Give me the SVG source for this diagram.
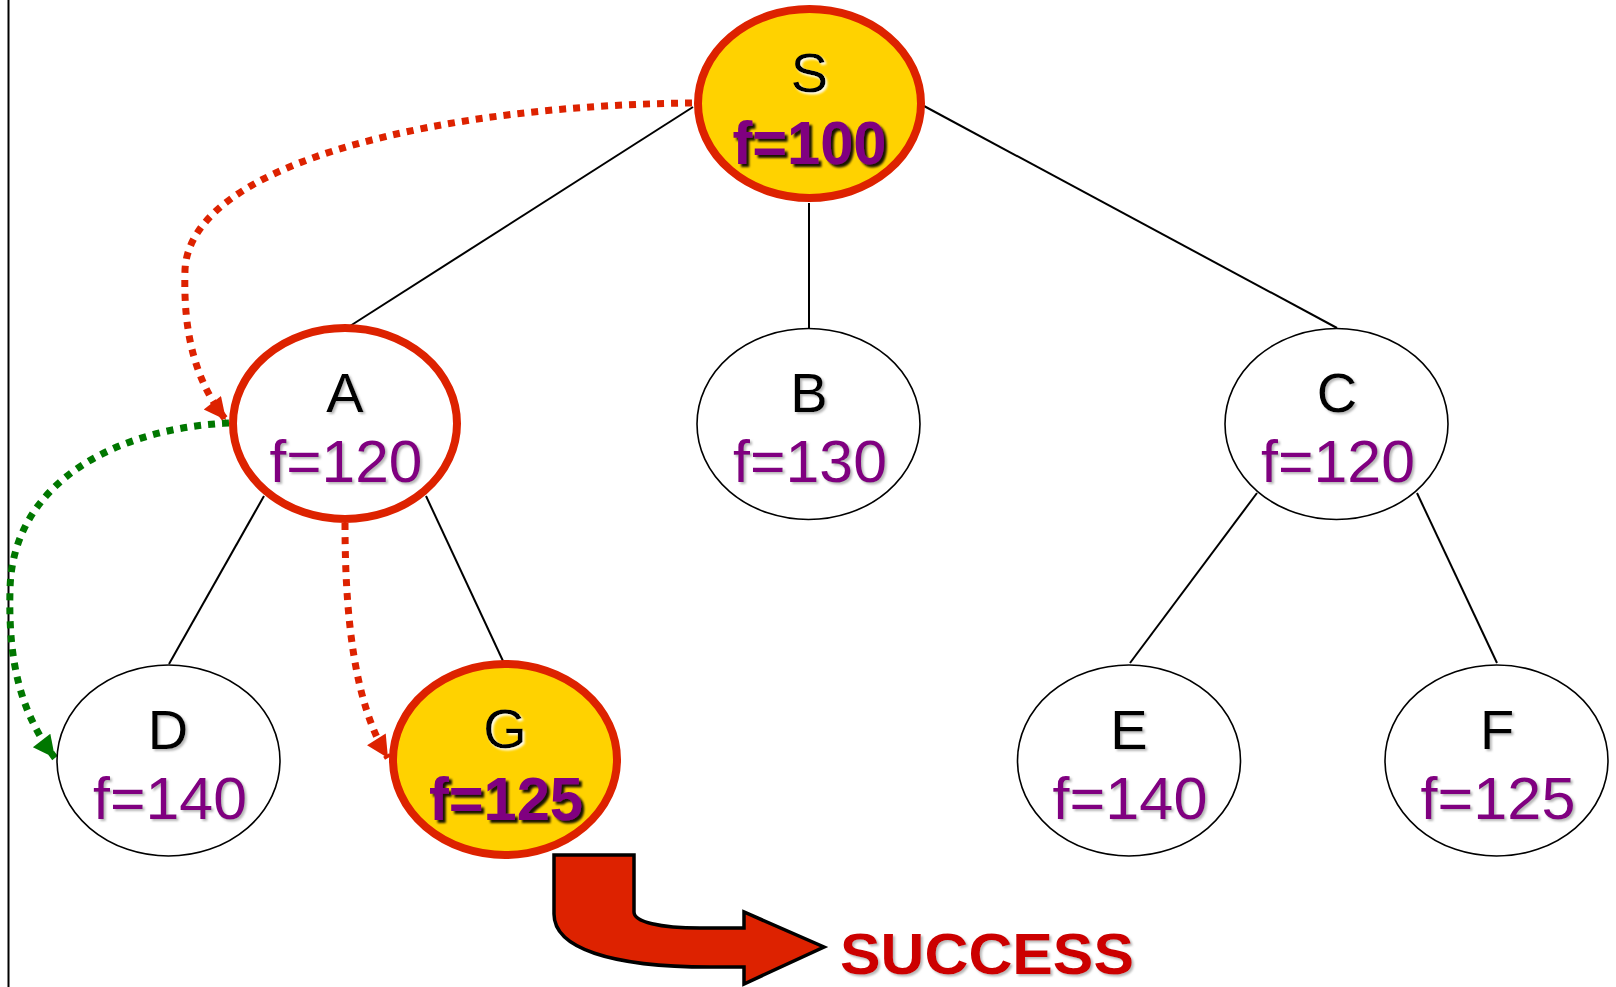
<svg xmlns="http://www.w3.org/2000/svg" width="1616" height="987" viewBox="0 0 1616 987">
<style>
.edge{stroke:#000;stroke-width:2;fill:none}
.hot{fill:#FFD200;stroke:#DD2200;stroke-width:8}
.open{fill:#fff;stroke:#DD2200;stroke-width:8}
.plain{fill:#fff;stroke:#000;stroke-width:1.6}
.lt{font-family:"Liberation Sans","DejaVu Sans",sans-serif;font-size:56px;fill:#000;text-anchor:middle}
.fv{font-family:"Liberation Sans","DejaVu Sans",sans-serif;font-size:60px;fill:#800080;text-anchor:middle}
.fb{font-family:"Liberation Sans","DejaVu Sans",sans-serif;font-size:62px;font-weight:bold;fill:#800080;text-anchor:middle}
.rd{fill:none;stroke:#DD2200;stroke-width:7;stroke-dasharray:7 7}
.gd{fill:none;stroke:#007700;stroke-width:7;stroke-dasharray:7 7}
</style>
<defs>
<filter id="sh" x="-20%" y="-20%" width="140%" height="140%"><feDropShadow dx="2" dy="2" stdDeviation="1.2" flood-color="#888" flood-opacity="0.6"/></filter>
<filter id="shb" x="-20%" y="-20%" width="140%" height="140%"><feDropShadow dx="3" dy="3" stdDeviation="1" flood-color="#000" flood-opacity="0.9"/></filter>
<filter id="shw" x="-20%" y="-20%" width="140%" height="140%"><feDropShadow dx="2" dy="2" stdDeviation="1.2" flood-color="#fff" flood-opacity="0.9"/></filter>
<marker id="ar" viewBox="0 0 20 20" refX="20" refY="10" markerWidth="24" markerHeight="22" markerUnits="userSpaceOnUse" orient="auto"><path d="M0,0 L20,10 L0,20 Z" fill="#DD2200"/></marker>
<marker id="ag" viewBox="0 0 20 20" refX="20" refY="10" markerWidth="24" markerHeight="22" markerUnits="userSpaceOnUse" orient="auto"><path d="M0,0 L20,10 L0,20 Z" fill="#007700"/></marker>
</defs>
<rect x="0" y="0" width="1616" height="987" fill="#fff"/>
<line x1="8.5" y1="0" x2="8.5" y2="987" stroke="#000" stroke-width="2"/>
<g id="connectors">
<line class="edge" x1="693" y1="107" x2="350" y2="326"/>
<line class="edge" x1="809" y1="203" x2="809" y2="328"/>
<line class="edge" x1="924" y1="106" x2="1337" y2="328"/>
<line class="edge" x1="264" y1="496" x2="169" y2="664"/>
<line class="edge" x1="426" y1="496" x2="503" y2="661"/>
<line class="edge" x1="1257" y1="493" x2="1130" y2="663"/>
<line class="edge" x1="1417" y1="493" x2="1497" y2="663"/>
<path class="rd" d="M692,103 C450,105 190,160 185,270 C183,335 196,382 226,420" marker-end="url(#ar)"/>
<path class="gd" d="M229,423 C120,428 12,480 10,590 C8,665 22,715 55,758" marker-end="url(#ag)"/>
<path class="rd" d="M345,523 C345,620 355,705 388,758" marker-end="url(#ar)"/>
<path d="M554,855 L634,855 L634,912 C634,922 660,928 700,928 L744,928 L744,912 L824,947 L744,984 L744,967 L710,967 C610,967 554,948 554,914 Z" fill="#DD2200" stroke="#000" stroke-width="3.5" stroke-linejoin="miter"/>
</g>
<g id="node-S">
<ellipse class="hot" cx="809.5" cy="103.5" rx="111.5" ry="94.5"/>
<text class="lt" x="809.5" y="92" filter="url(#shw)">S</text>
<text class="fb" x="809.5" y="164" textLength="154" lengthAdjust="spacingAndGlyphs" filter="url(#shb)">f=100</text>
</g>
<g id="node-A">
<ellipse class="open" cx="345" cy="423.5" rx="112" ry="95.5"/>
<text class="lt" x="345" y="412" filter="url(#sh)">A</text>
<text class="fv" x="346" y="482" textLength="153" lengthAdjust="spacingAndGlyphs" filter="url(#sh)">f=120</text>
</g>
<g id="node-B">
<ellipse class="plain" cx="808.5" cy="424" rx="111.5" ry="95.5"/>
<text class="lt" x="809" y="412" filter="url(#sh)">B</text>
<text class="fv" x="810" y="482" textLength="154" lengthAdjust="spacingAndGlyphs" filter="url(#sh)">f=130</text>
</g>
<g id="node-C">
<ellipse class="plain" cx="1336.5" cy="424" rx="111.5" ry="95.5"/>
<text class="lt" x="1337" y="412" filter="url(#sh)">C</text>
<text class="fv" x="1338" y="482" textLength="154" lengthAdjust="spacingAndGlyphs" filter="url(#sh)">f=120</text>
</g>
<g id="node-D">
<ellipse class="plain" cx="168.5" cy="760.5" rx="111.5" ry="95.5"/>
<text class="lt" x="168" y="749" filter="url(#sh)">D</text>
<text class="fv" x="170" y="819" textLength="154" lengthAdjust="spacingAndGlyphs" filter="url(#sh)">f=140</text>
</g>
<g id="node-G">
<ellipse class="hot" cx="505" cy="759.5" rx="112" ry="95.5"/>
<text class="lt" x="505" y="748" filter="url(#shw)">G</text>
<text class="fb" x="506" y="820" textLength="154" lengthAdjust="spacingAndGlyphs" filter="url(#shb)">f=125</text>
</g>
<g id="node-E">
<ellipse class="plain" cx="1129" cy="760.5" rx="111.5" ry="95.5"/>
<text class="lt" x="1129" y="749" filter="url(#sh)">E</text>
<text class="fv" x="1130" y="819" textLength="155" lengthAdjust="spacingAndGlyphs" filter="url(#sh)">f=140</text>
</g>
<g id="node-F">
<ellipse class="plain" cx="1496.5" cy="760.5" rx="111.5" ry="95.5"/>
<text class="lt" x="1497" y="749" filter="url(#sh)">F</text>
<text class="fv" x="1498" y="819" textLength="155" lengthAdjust="spacingAndGlyphs" filter="url(#sh)">f=125</text>
</g>
<g id="label-success">
<text x="840" y="974" textLength="294" lengthAdjust="spacingAndGlyphs" font-family="'Liberation Sans','DejaVu Sans',sans-serif" font-size="58" font-weight="bold" fill="#CC0000" filter="url(#sh)">SUCCESS</text>
</g>
</svg>
